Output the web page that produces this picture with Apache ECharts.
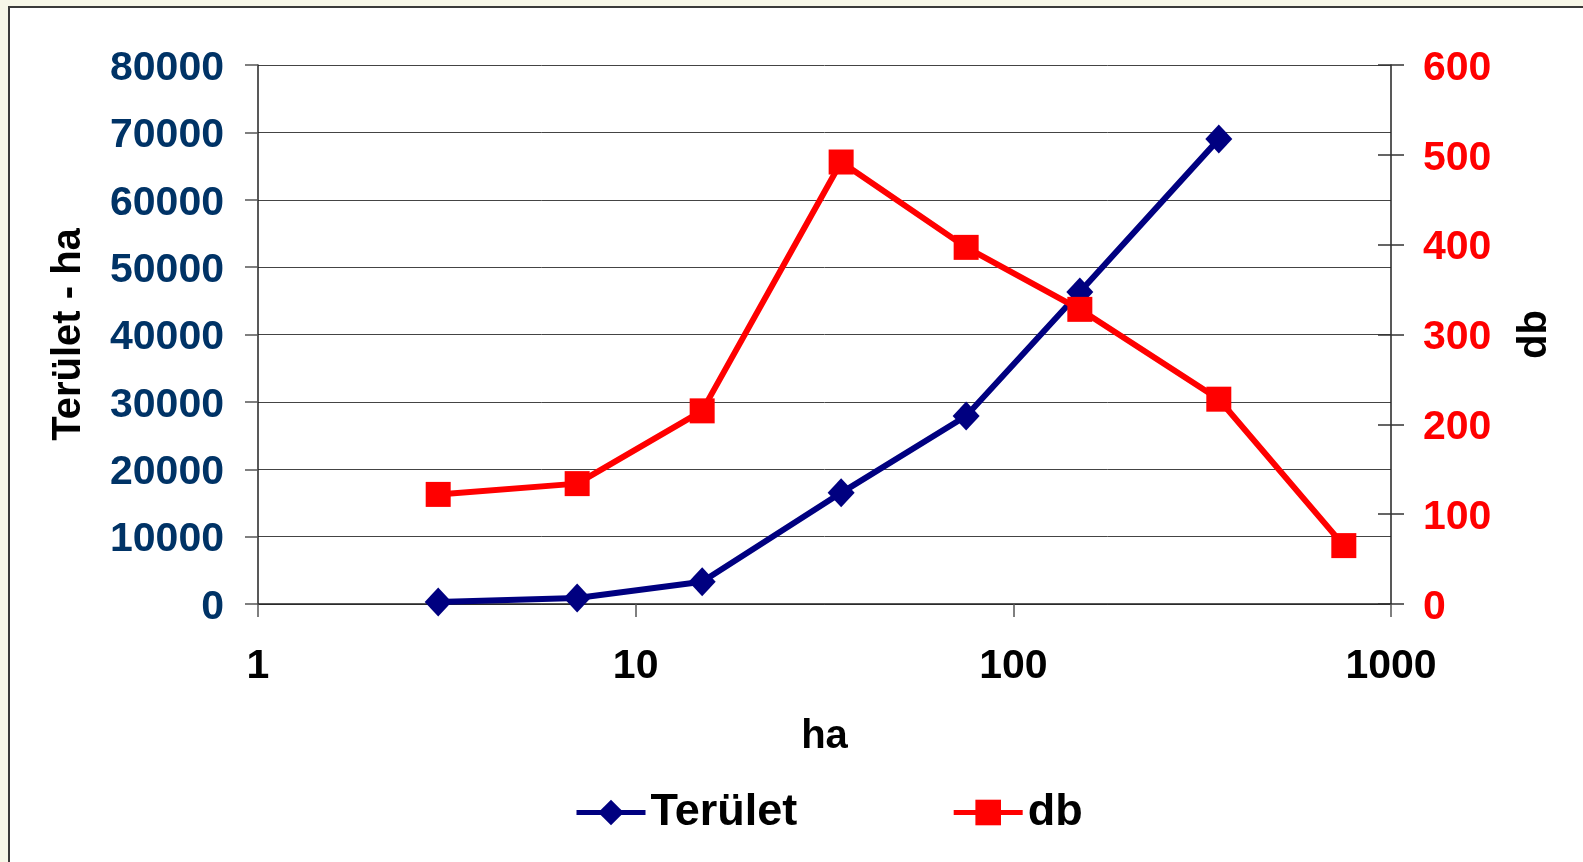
<!DOCTYPE html>
<html>
<head>
<meta charset="utf-8">
<title>Terület - db</title>
<script src="https://cdn.jsdelivr.net/npm/echarts@6/dist/echarts.min.js"></script>
<style>
  html, body { margin: 0; padding: 0; background: #f7f7e8; overflow: hidden; }
  #panel { position: absolute; left: 8px; top: 6px; width: 1600px; height: 900px;
           background: #fff; border: 2px solid #3a3a3a; }
  #chart { position: absolute; left: 0; top: 0; width: 1583px; height: 862px; }
</style>
</head>
<body>
<div id="panel"></div>
<div id="chart"></div>
<script>
// size class (ha), log scale
const sizes = [3, 7, 15, 35, 75, 150, 350, 750]
// total area per class (left axis)
const terulet = [300, 890, 3300, 16500, 27900, 46300, 69000]
// number of farms per class (right axis)
const db = [122, 134, 215, 492, 397, 328, 228, 65]

const font = "'Liberation Sans', Arial, sans-serif"
const plain = (v) => String(v)
// nudge y labels a few px down, like the original
const lowered = (v) => '{v|' + v + '}'
const lowRich = { v: { fontFamily: font, fontSize: 41, fontWeight: 'bold', padding: [7, 0, 0, 0] } }

const chart = echarts.init(document.getElementById('chart'))
chart.setOption({
  animation: false,
  grid: { left: 258, top: 65, right: 192, bottom: 258, containLabel: false },
  legend: {
    left: 569,
    top: 785,
    itemWidth: 69,
    itemHeight: 32,
    itemGap: 154,
    lineStyle: { width: 5 },
    textStyle: { fontFamily: font, fontSize: 45, fontWeight: 'bold', color: '#000' },
    data: ['Terület', 'db'],
  },
  xAxis: {
    type: 'log',
    logBase: 10,
    min: 1,
    max: 1000,
    name: 'ha',
    nameLocation: 'middle',
    nameGap: 113,
    nameTextStyle: { fontFamily: font, fontSize: 40, fontWeight: 'bold', color: '#000' },
    axisLine: { lineStyle: { color: '#222', width: 1.5 } },
    axisTick: { length: 13, lineStyle: { color: '#555', width: 1.5 } },
    axisLabel: { fontFamily: font, fontSize: 41, fontWeight: 'bold', color: '#000', margin: 42, formatter: plain },
    splitLine: { show: false },
    minorTick: { show: false },
  },
  yAxis: [
    {
      type: 'value',
      position: 'left',
      min: 0,
      max: 80000,
      interval: 10000,
      name: 'Terület - ha',
      nameLocation: 'middle',
      nameRotate: 90,
      nameGap: 169,
      nameTextStyle: { fontFamily: font, fontSize: 40, fontWeight: 'bold', color: '#000' },
      axisLine: { show: true, lineStyle: { color: '#222', width: 1.5 } },
      axisTick: { show: true, length: 13, lineStyle: { color: '#555', width: 1.5 } },
      axisLabel: { fontFamily: font, fontSize: 41, fontWeight: 'bold', color: '#003366', margin: 34,
                   formatter: lowered, rich: lowRich },
      splitLine: { show: true, lineStyle: { color: '#444', width: 1 } },
    },
    {
      type: 'value',
      position: 'right',
      min: 0,
      max: 600,
      interval: 100,
      name: 'db',
      nameLocation: 'middle',
      nameRotate: 90,
      nameGap: 124,
      nameTextStyle: { fontFamily: font, fontSize: 40, fontWeight: 'bold', color: '#000' },
      axisLine: { show: true, lineStyle: { color: '#222', width: 1.5 } },
      axisTick: { show: true, length: 13, lineStyle: { color: '#333', width: 1.5 } },
      axisLabel: { fontFamily: font, fontSize: 41, fontWeight: 'bold', color: '#ff0000', margin: 32,
                   formatter: lowered, rich: lowRich },
      splitLine: { show: false },
    },
    {
      // inner half of the crossing ticks on the right axis
      type: 'value',
      position: 'right',
      min: 0,
      max: 600,
      interval: 100,
      axisLine: { show: false },
      axisTick: { show: true, inside: true, length: 13, lineStyle: { color: '#333', width: 1.5 } },
      axisLabel: { show: false },
      splitLine: { show: false },
    },
  ],
  series: [
    {
      name: 'Terület',
      type: 'line',
      yAxisIndex: 0,
      data: terulet.map((v, i) => [sizes[i], v]),
      symbol: 'diamond',
      symbolSize: [27, 29],
      itemStyle: { color: '#000080' },
      lineStyle: { color: '#000080', width: 6 },
      z: 3,
    },
    {
      name: 'db',
      type: 'line',
      yAxisIndex: 1,
      data: db.map((v, i) => [sizes[i], v]),
      symbol: 'rect',
      symbolSize: 25,
      itemStyle: { color: '#ff0000' },
      lineStyle: { color: '#ff0000', width: 6 },
      z: 4,
    },
  ],
})
</script>
</body>
</html>
